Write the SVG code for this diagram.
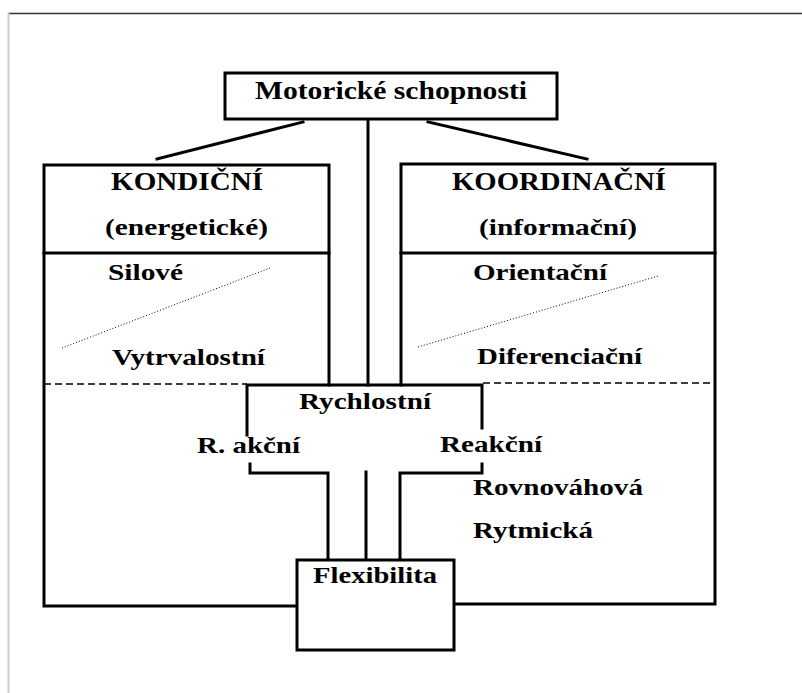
<svg xmlns="http://www.w3.org/2000/svg" width="802" height="693" viewBox="0 0 802 693">
<style>
.ln{fill:none;stroke:#000;stroke-width:3;stroke-linecap:square}
.box{fill:#fff;stroke:#000;stroke-width:3}
.dash{fill:none;stroke:#000;stroke-width:1.5;stroke-dasharray:7 4}
.dot{fill:none;stroke:#000;stroke-width:1;stroke-dasharray:1 2}
text{font-family:"Liberation Serif","Times New Roman",serif;font-weight:bold;font-size:23px;fill:#000}
.big{font-size:25px}
</style>
<rect width="802" height="693" fill="#fff"/>
<g id="frame">
<line x1="8" y1="13.5" x2="802" y2="13.5" stroke="#333" stroke-width="1.6"/>
<line x1="8.5" y1="13" x2="8.5" y2="693" stroke="#ccc" stroke-width="2"/>
</g>
<g id="connectors">
<line class="ln" x1="157" y1="159" x2="303" y2="122"/>
<line class="ln" x1="368" y1="121" x2="368" y2="385"/>
<line class="ln" x1="428" y1="122" x2="587" y2="159"/>
<polyline class="ln" points="250,464 250,473 328,473 328,560"/>
<line class="ln" x1="366" y1="472" x2="366" y2="560"/>
<polyline class="ln" points="482,464 482,473 400,473 400,560"/>
</g>
<g id="kondicni">
<polyline class="ln" points="329,385 329,165 44,165 44,606 297,606"/>
<line class="ln" x1="44" y1="253" x2="329" y2="253"/>
<line class="dash" x1="44" y1="384" x2="247" y2="384"/>
<line class="dot" x1="62" y1="348" x2="270" y2="268"/>
<text class="big" x="111" y="190" textLength="152" lengthAdjust="spacingAndGlyphs">KONDIČNÍ</text>
<text x="105" y="235" textLength="163" lengthAdjust="spacingAndGlyphs">(energetické)</text>
<text x="108" y="280" textLength="75" lengthAdjust="spacingAndGlyphs">Silové</text>
<text x="112" y="365" textLength="153" lengthAdjust="spacingAndGlyphs">Vytrvalostní</text>
</g>
<g id="koordinacni">
<polyline class="ln" points="401,385 401,164 715,164 715,604 454,604"/>
<line class="ln" x1="401" y1="253" x2="715" y2="253"/>
<line class="dash" x1="483" y1="383" x2="715" y2="383"/>
<line class="dot" x1="418" y1="347" x2="658" y2="276"/>
<text class="big" x="452" y="190" textLength="214" lengthAdjust="spacingAndGlyphs">KOORDINAČNÍ</text>
<text x="479" y="235" textLength="158" lengthAdjust="spacingAndGlyphs">(informační)</text>
<text x="473" y="280" textLength="134" lengthAdjust="spacingAndGlyphs">Orientační</text>
<text x="477" y="364" textLength="165" lengthAdjust="spacingAndGlyphs">Diferenciační</text>
<text x="473" y="495" textLength="170" lengthAdjust="spacingAndGlyphs">Rovnováhová</text>
<text x="473" y="538" textLength="120" lengthAdjust="spacingAndGlyphs">Rytmická</text>
</g>
<g id="top">
<rect class="box" x="225" y="73" width="332" height="46" stroke-width="2.5"/>
<text class="big" x="255" y="99" textLength="272" lengthAdjust="spacingAndGlyphs">Motorické schopnosti</text>
</g>
<g id="rychlostni">
<polyline class="ln" points="247,435 247,385 482,385 482,428"/>
<text x="299" y="409" textLength="132" lengthAdjust="spacingAndGlyphs">Rychlostní</text>
<text x="197" y="453" textLength="103" lengthAdjust="spacingAndGlyphs">R. akční</text>
<text x="440" y="452" textLength="102" lengthAdjust="spacingAndGlyphs">Reakční</text>
</g>
<g id="flexibilita">
<rect class="box" x="297" y="560" width="157" height="90"/>
<text x="313" y="583" textLength="124" lengthAdjust="spacingAndGlyphs">Flexibilita</text>
</g>
</svg>
